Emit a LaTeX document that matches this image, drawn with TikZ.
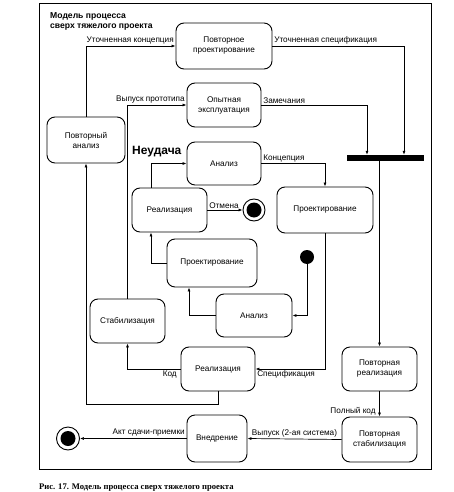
\documentclass[tikz,border=0pt]{standalone}
\usepackage{fontspec}
\setmainfont{Liberation Sans}
\newfontfamily\capfont{Liberation Serif}
\usetikzlibrary{arrows.meta}

\begin{document}
\begin{tikzpicture}[x=1pt, y=-1pt,
    state/.style={draw, rounded corners=8pt, line width=0.9pt, align=center, inner sep=1pt, font=\fontsize{8.2}{10}\selectfont},
    flow/.style={draw, line width=0.7pt, -{Latex[length=4pt,width=3pt]}},
    lbl/.style={font=\fontsize{8.2}{9}\selectfont, inner sep=1.5pt},
    final/.style={circle, draw, line width=0.9pt, minimum size=22pt, inner sep=0pt,
        path picture={\fill (path picture bounding box.center) circle (7.5pt);}},
    initial/.style={circle, fill=black, minimum size=14pt, inner sep=0pt},
    forkbar/.style={fill=black, minimum width=77pt, minimum height=6pt, inner sep=0pt}]

\useasboundingbox (0,0) rectangle (453,492);

% Outer frame
\draw[line width=0.9pt] (39,3) rectangle (431,469);
\node[anchor=north west, align=left, inner sep=0pt, font=\fontsize{8.6}{10}\selectfont\bfseries] (title) at (50,12) {Модель процесса\\сверх тяжелого проекта};

% Outer loop
\node[state, minimum width=96pt, minimum height=46pt] (pp) at (224,46) {Повторное\\проектирование};
\node[state, minimum width=74pt, minimum height=44pt] (opyt) at (224,105) {Опытная\\эксплуатация};
\node[state, minimum width=78pt, minimum height=46pt] (pa) at (86,140) {Повторный\\анализ};
\node[forkbar] (fork) at (385.5,158) {};

% Failed attempt
\node[anchor=west, inner sep=0pt, font=\fontsize{12}{14}\selectfont\bfseries] (fail) at (132,152) {Неудача};
\node[state, minimum width=74pt, minimum height=43pt] (an1) at (224,163.5) {Анализ};
\node[state, minimum width=75pt, minimum height=44pt] (real1) at (169.5,210) {Реализация};
\node[final] (fin1) at (254,210) {};
\node[state, minimum width=96pt, minimum height=46pt] (proj1) at (325,210) {Проектирование};

% First system
\node[state, minimum width=90pt, minimum height=48pt] (proj2) at (212,263) {Проектирование};
\node[initial] (init) at (307,257) {};
\node[state, minimum width=76pt, minimum height=43pt] (an2) at (254,315.5) {Анализ};
\node[state, minimum width=75pt, minimum height=44pt] (stab) at (127.5,321) {Стабилизация};
\node[state, minimum width=74pt, minimum height=44pt] (real2) at (218,369) {Реализация};

% Second system
\node[state, minimum width=75pt, minimum height=44pt] (prel) at (379.5,369) {Повторная\\реализация};
\node[state, minimum width=75pt, minimum height=45pt] (pstab) at (379.5,439.5) {Повторная\\стабилизация};
\node[state, minimum width=60pt, minimum height=47pt] (vned) at (217,438.5) {Внедрение};
\node[final, minimum size=23pt] (fin2) at (68,438.5) {};

% Transitions
\draw[flow] (pa.north) |- (pp.west) node[lbl, pos=1, above left] {Уточненная концепция};
\draw[flow] (pp.east) -| ([xshift=18.5pt]fork.north) node[lbl, pos=0, above right] {Уточненная спецификация};
\draw[flow] (stab.north) |- (opyt.west) node[lbl, pos=1, above left] {Выпуск прототипа};
\draw[flow] (opyt.east) -| ([xshift=-18.5pt]fork.north) node[lbl, pos=0, above right] {Замечания};
\draw[flow] (fork.south -| prel.north) -- (prel.north);

\draw[flow] (init) |- (an2.east);
\draw[flow] (an2.west) -| ([xshift=-23pt]proj2.south);
\draw[flow] (proj2.west) -| ([xshift=-18.5pt]real1.south);
\draw[flow] ([xshift=-18.5pt]real1.north) |- (an1.west);
\draw[flow] (real1.east) -- (fin1) node[lbl, pos=0, above right] {Отмена};
\draw[flow] (an1.east) -| (proj1.north) node[lbl, pos=0, above right] {Концепция};
\draw[flow] (proj1.south) |- (real2.east) node[lbl, pos=1, below right] {Спецификация};
\draw[flow] (real2.west) -| (stab.south) node[lbl, pos=0, below left, xshift=-2pt] {Код};
\draw[flow] (real2.south) -- ++(0,13) -| (pa.south);

\draw[flow] (prel.south) -- (pstab.north) node[lbl, pos=1, above left, xshift=-2pt] {Полный код};
\draw[flow] (pstab.west) -- (vned.east) node[lbl, midway, above] {Выпуск (2-ая система)};
\draw[flow] (vned.west) -- (fin2) node[lbl, pos=0, above left] {Акт сдачи-приемки};

% Caption
\node[anchor=west, inner sep=0pt, font=\capfont\fontsize{8.6}{9}\selectfont\bfseries] (caption) at (39,488) {Рис. 17. Модель процесса сверх тяжелого проекта};

\end{tikzpicture}
\end{document}
